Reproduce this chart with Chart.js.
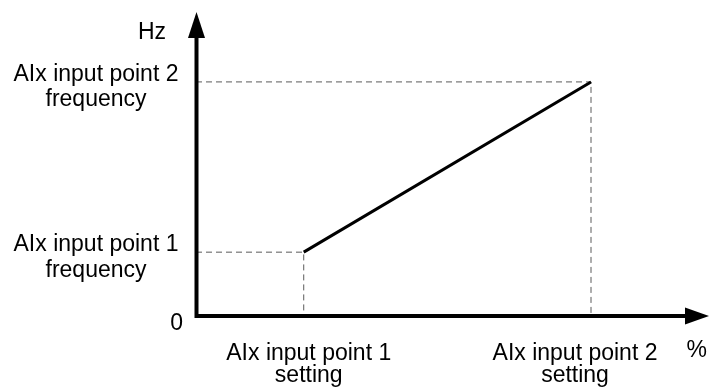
<!DOCTYPE html>
<html>
<head>
<meta charset="utf-8">
<script src="https://cdn.jsdelivr.net/npm/chart.js@4/dist/chart.umd.min.js"></script>
<style>
html,body{margin:0;padding:0;background:#fff;}
canvas{display:block;}
</style>
</head>
<body>
<canvas id="c" width="710" height="387"></canvas>
<script>
// ---- data ----
const settings = [21, 77];            // x values (%) of input points 1 and 2
const frequencies = [21, 77];         // y values (Hz) of input points 1 and 2
const xTickLabels = [["AIx input point 1", "setting"], ["AIx input point 2", "setting"]];
const yTickLabels = [["AIx input point 1", "frequency"], ["AIx input point 2", "frequency"]];
const originLabel = "0";
const yUnit = "Hz";
const xUnit = "%";

// ---- layout/style (not data) ----
const FONT = '23px "Liberation Sans", Arial, sans-serif';
const xLabelShift = [5, -16];

const curve = settings.map((s, i) => ({x: s, y: frequencies[i]}));
const guides = settings.map((s, i) => ({
  data: [{x: 0, y: frequencies[i]}, {x: s, y: frequencies[i]}, {x: s, y: 0}],
  borderColor: '#5a5a5a', borderWidth: 1, borderDash: [6, 4],
  pointRadius: 0, fill: false, showLine: true, clip: false, order: 2
}));

const decor = {
  id: 'decor',
  afterDatasetsDraw(chart) {
    const ctx = chart.ctx;
    const xs = chart.scales.x, ys = chart.scales.y;
    const x0 = xs.getPixelForValue(0), y0 = ys.getPixelForValue(0);
    const top = chart.chartArea.top, right = chart.chartArea.right;
    ctx.save();
    ctx.fillStyle = '#000'; ctx.strokeStyle = '#000';
    ctx.lineWidth = 4; ctx.lineCap = 'butt';
    // axes
    ctx.beginPath();
    ctx.moveTo(x0 + 0.5, y0 + 2); ctx.lineTo(x0 + 0.5, top + 24);
    ctx.moveTo(x0 - 1.5, y0); ctx.lineTo(right - 22, y0);
    ctx.stroke();
    // arrowheads
    ctx.beginPath();
    ctx.moveTo(x0 + 0.5, top); ctx.lineTo(x0 + 9, top + 26); ctx.lineTo(x0 - 8, top + 26); ctx.closePath();
    ctx.fill();
    ctx.beginPath();
    ctx.moveTo(right, y0); ctx.lineTo(right - 24, y0 - 8.5); ctx.lineTo(right - 24, y0 + 8.5); ctx.closePath();
    ctx.fill();
    // text
    ctx.font = FONT;
    ctx.textBaseline = 'alphabetic';
    ctx.textAlign = 'center';
    yTickLabels.forEach((lines, i) => {
      const py = ys.getPixelForValue(frequencies[i]);
      lines.forEach((t, k) => ctx.fillText(t, x0 - 100, py - 1 + k * 25.5));
    });
    xTickLabels.forEach((lines, i) => {
      const px = xs.getPixelForValue(settings[i]) + xLabelShift[i];
      lines.forEach((t, k) => ctx.fillText(t, px, y0 + 44 + k * 21.5));
    });
    ctx.textAlign = 'right';
    ctx.fillText(originLabel, x0 - 13, y0 + 14);
    ctx.fillText(yUnit, x0 - 30, top + 27);
    ctx.fillText(xUnit, right - 2, y0 + 41);
    ctx.restore();
  }
};

new Chart(document.getElementById('c'), {
  type: 'scatter',
  data: {
    datasets: [
      {data: curve, borderColor: '#000', borderWidth: 3, pointRadius: 0, showLine: true, fill: false, clip: false, order: 1},
      ...guides
    ]
  },
  options: {
    responsive: false,
    devicePixelRatio: 1,
    animation: false,
    layout: {padding: {left: 196, top: 12, right: 1, bottom: 71}},
    plugins: {legend: {display: false}, tooltip: {enabled: false}},
    scales: {
      x: {type: 'linear', min: 0, max: 100, display: false},
      y: {type: 'linear', min: 0, max: 100, display: false}
    }
  },
  plugins: [decor]
});
</script>
</body>
</html>
